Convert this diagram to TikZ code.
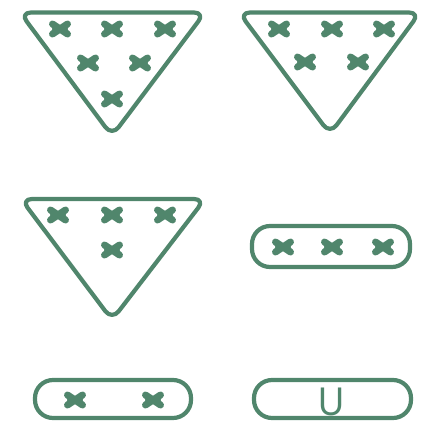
\documentclass[tikz,border=0pt]{standalone}
\usepackage{fontspec}
\setmainfont{Liberation Sans}
\definecolor{sgreen}{RGB}{80,134,108}
\tikzset{
  outline/.style={draw=sgreen, line width=4.2pt, rounded corners=11pt, line join=round},
  pillbox/.style={draw=sgreen, line width=4.2pt, rounded corners=18pt},
  crossmark/.pic={
    \draw[sgreen, line width=7pt, line cap=round] (-7.5,-5) -- (7.5,5);
    \draw[sgreen, line width=7pt, line cap=round] (-7.5,5) -- (7.5,-5);
    \draw[sgreen, line width=8pt, line cap=round] (-4,0) -- (4,0);
  }
}
\begin{document}
\begin{tikzpicture}[x=1pt,y=-1pt]
\useasboundingbox (0,0) rectangle (421,424);
% triangle 1
\draw[outline] (20,12.5) -- (205,12.5) -- (112,136) -- cycle;
\foreach \p in {(60,29),(112,29),(165,29),(88,63),(140,63),(112,99)}
  \pic at \p {crossmark};
% triangle 2
\draw[outline] (239,12.5) -- (420,12.5) -- (330,134) -- cycle;
\foreach \p in {(279,29),(332,29),(384,29),(305,62),(358,62)}
  \pic at \p {crossmark};
% triangle 3
\draw[outline] (21,199) -- (205,199) -- (112,320) -- cycle;
\foreach \p in {(58,215),(112,215),(165,215),(112,250)}
  \pic at \p {crossmark};
% middle pill
\draw[pillbox] (252,226) rectangle (410,267);
\foreach \p in {(283,247),(332,247),(383,247)}
  \pic at \p {crossmark};
% bottom left pill
\draw[pillbox] (35,380) rectangle (191,418);
\foreach \p in {(75,400),(153,400)}
  \pic at \p {crossmark};
% bottom right pill
\draw[pillbox] (254,380) rectangle (411,418);
\node[text=sgreen, font=\fontsize{40}{40}\selectfont, inner sep=0pt, anchor=base, xscale=0.9] (u) at (331,415) {U};
\end{tikzpicture}
\end{document}
